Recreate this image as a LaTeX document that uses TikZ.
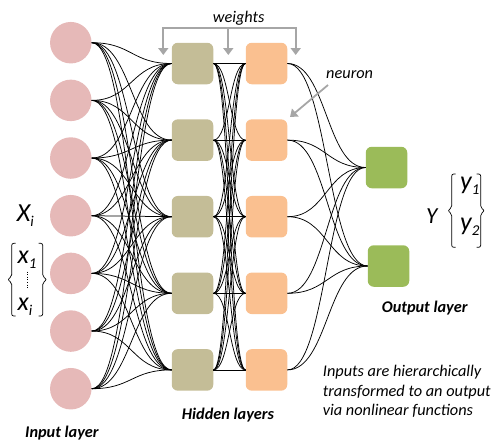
\documentclass[tikz,border=0pt]{standalone}
\usepackage{fontspec}
\setmainfont{Carlito}
\usetikzlibrary{calc,arrows.meta}
\definecolor{inpink}{HTML}{E6B9B8}
\definecolor{hidolive}{HTML}{C4BD97}
\definecolor{hidorange}{HTML}{FAC090}
\definecolor{outgreen}{HTML}{9BBB59}
\definecolor{wgray}{HTML}{A6A6A6}
\newcommand\subtxt[2]{#1\raisebox{-5pt}{\fontsize{15}{15}\selectfont #2}}
\tikzset{
 inneuron/.style={circle, fill=inpink, minimum size=41.5pt, inner sep=0pt},
 hbox/.style={rounded corners=6pt, minimum size=41.5pt, inner sep=0pt},
 h1box/.style={hbox, fill=hidolive},
 h2box/.style={hbox, fill=hidorange},
 obox/.style={hbox, fill=outgreen},
 link/.style={to path={let \p1=(\tikztostart), \p2=(\tikztotarget) in .. controls ({0.5*\x1+0.5*\x2},\y1) and ({0.5*\x1+0.5*\x2},\y2) .. (\tikztotarget)}},
 linkline/.style={draw=black, line width=0.75pt},
 garrow/.style={draw=wgray, line width=2pt, -{Triangle[width=10pt,length=7pt]}},
 gline/.style={draw=wgray, line width=2pt, line cap=rect},
 lbl/.style={anchor=base west, inner sep=0pt, font=\fontsize{16.3}{19}\selectfont\itshape},
 layerlbl/.style={anchor=base west, inner sep=0pt, font=\fontsize{16.3}{19}\selectfont\bfseries\itshape},
 biglbl/.style={anchor=base west, inner sep=0pt, font=\fontsize{26}{26}\selectfont\itshape},
 bracel/.style={draw=black, line width=0.7pt, rounded corners=2pt},
}
\begin{document}
\begin{tikzpicture}[x=1pt,y=-1pt]
\useasboundingbox (0,0) rectangle (495,442);
% input neurons
\foreach \k in {1,...,7} {
  \node[inneuron] (i\k) at (70.8,{42.7+57.67*(\k-1)}) {};
}
% hidden layers
\foreach \k in {1,...,5} {
  \node[h1box] (a\k) at (192.5,{63.5+76.6*(\k-1)}) {};
  \node[h2box] (b\k) at (266.5,{63.5+76.6*(\k-1)}) {};
}
% output
\node[obox] (o1) at (386.5,167.5) {};
\node[obox] (o2) at (388.5,266) {};
% connections
\foreach \i in {1,...,7} {
  \foreach \j in {1,...,5} {
    \draw[linkline] (i\i.east) to[link] (a\j.west);
  }
}
\foreach \i in {1,...,5} {
  \foreach \j in {1,...,5} {
    \draw[linkline] (a\i.east) to[link] (b\j.west);
  }
  \foreach \j in {1,2} {
    \draw[linkline] (b\i.east) to[link] (o\j.west);
  }
}
% weights bracket
\coordinate (w1) at (163.3,28.3);
\coordinate (w2) at (228.3,28.3);
\coordinate (w3) at (295.7,28.3);
\draw[gline] (w1) -- (w3);
\foreach \w in {w1,w2,w3} {
  \draw[garrow] (\w) -- ++(0,26.7);
}
\node[lbl] (wt) at (212.7,22.7) {weights};
% neuron pointer
\node[lbl] (nt) at (326,78.3) {neuron};
\coordinate (n0) at (328,85);
\coordinate (n1) at (290,117);
\draw[garrow, line width=1.8pt] (n0) -- (n1);
% input labels
\node[biglbl] (xi) at (16.7,221.7) {\subtxt{X}{i}};
\node[biglbl] (x1) at (17.3,263) {\subtxt{x}{1}};
\node[biglbl] (x2) at (17.3,310.7) {\subtxt{x}{i}};
\draw[line width=0.6pt, dotted] (27,271.5) -- (27,289);
\draw[bracel] (15.7,243.3) -- (11.7,243.3) -- (11.7,276.6) -- (7.5,279.6) -- (11.7,282.6) -- (11.7,316) -- (15.7,316);
\draw[bracel] (38.7,243.3) -- (42.7,243.3) -- (42.7,276.6) -- (46.9,279.6) -- (42.7,282.6) -- (42.7,316) -- (38.7,316);
% output labels
\node[biglbl, font=\fontsize{23}{23}\selectfont\itshape] (yy) at (426,223.3) {Y};
\node[biglbl] (y1) at (460,189.3) {\subtxt{y}{1}};
\node[biglbl] (y2) at (460,230) {\subtxt{y}{2}};
\draw[bracel] (455.7,174) -- (451.7,174) -- (451.7,207.7) -- (447.7,210.7) -- (451.7,213.7) -- (451.7,247.3) -- (455.7,247.3);
\draw[bracel] (476.7,174) -- (480.7,174) -- (480.7,207.7) -- (484.7,210.7) -- (480.7,213.7) -- (480.7,247.3) -- (476.7,247.3);
% layer labels
\node[layerlbl] (il) at (25,437.3) {Input layer};
\node[layerlbl] (hl) at (181.7,419.3) {Hidden layers};
\node[layerlbl] (ol) at (381.7,312.7) {Output layer};
% description
\node[lbl] (d1) at (322.7,376.7) {Inputs are hierarchically};
\node[lbl] (d2) at (322.7,396) {transformed to an output};
\node[lbl] (d3) at (322.7,415.3) {via nonlinear functions};
\end{tikzpicture}
\end{document}
